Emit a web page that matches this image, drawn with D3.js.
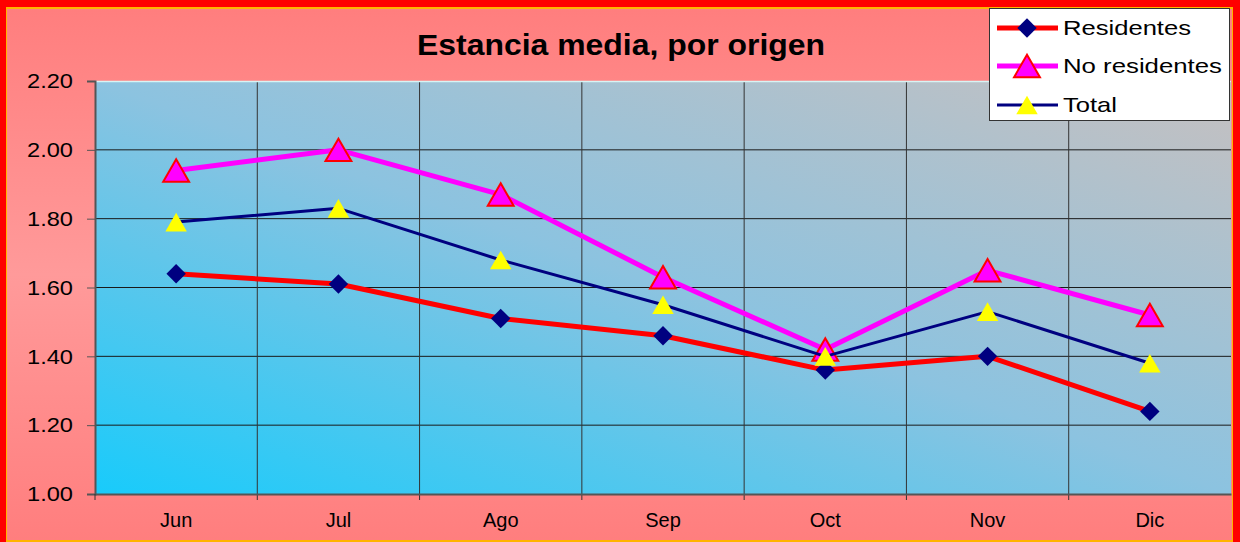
<!DOCTYPE html>
<html>
<head>
<meta charset="utf-8">
<script src="https://cdn.jsdelivr.net/npm/d3@7"></script>
<style>
  body { margin: 0; padding: 0; background: #fff; }
  svg { display: block; font-family: "Liberation Sans", Arial, sans-serif; }
</style>
</head>
<body>
<div id="chart"></div>
<script>
// data
var months = ["Jun", "Jul", "Ago", "Sep", "Oct", "Nov", "Dic"];
var residentes = [1.64, 1.61, 1.51, 1.46, 1.36, 1.40, 1.24];
var noResidentes = [1.94, 2.00, 1.87, 1.63, 1.42, 1.65, 1.52];
var total = [1.79, 1.83, 1.68, 1.55, 1.40, 1.53, 1.38];
var yTicks = [1.00, 1.20, 1.40, 1.60, 1.80, 2.00, 2.20];

var width = 1240, height = 542;
var plot = { left: 95, top: 81, right: 1231, bottom: 494 };

var svg = d3.select("#chart").append("svg")
  .attr("width", width)
  .attr("height", height);

var defs = svg.append("defs");

// outer pink background, lighter in the middle band
var bg = defs.append("linearGradient").attr("id", "bgGrad")
  .attr("x1", 0).attr("y1", 0).attr("x2", 0).attr("y2", 1);
bg.append("stop").attr("offset", "0%").attr("stop-color", "#ff7e7e");
bg.append("stop").attr("offset", "50%").attr("stop-color", "#ff9a9a");
bg.append("stop").attr("offset", "100%").attr("stop-color", "#ff7e7e");

// plot area: cyan bottom-left to grey top-right
var pg = defs.append("linearGradient").attr("id", "plotGrad")
  .attr("x1", 0).attr("y1", 1).attr("x2", 1).attr("y2", 0);
pg.append("stop").attr("offset", "0%").attr("stop-color", "#18cbfb");
pg.append("stop").attr("offset", "50%").attr("stop-color", "#8cc3e0");
pg.append("stop").attr("offset", "100%").attr("stop-color", "#c6c0c0");

svg.append("rect").attr("x", 0).attr("y", 0).attr("width", width).attr("height", height)
  .attr("fill", "#ff0000");
svg.append("rect").attr("x", 6).attr("y", 7).attr("width", 1227).attr("height", 535)
  .attr("fill", "#ffb400");
svg.append("rect").attr("x", 7).attr("y", 9).attr("width", 1225).attr("height", 531)
  .attr("fill", "url(#bgGrad)");

svg.append("rect")
  .attr("x", plot.left).attr("y", plot.top)
  .attr("width", plot.right - plot.left).attr("height", plot.bottom - plot.top)
  .attr("fill", "url(#plotGrad)");

var x = d3.scaleBand().domain(months).range([plot.left, plot.right]);
var y = d3.scaleLinear().domain([1.0, 2.2]).range([plot.bottom, plot.top]);

// horizontal grid lines
svg.append("g").selectAll("line")
  .data(yTicks.slice(1, -1))
  .enter().append("line")
  .attr("x1", plot.left).attr("x2", plot.right)
  .attr("y1", function(d) { return y(d); })
  .attr("y2", function(d) { return y(d); })
  .attr("stroke", "#1a1a1a").attr("stroke-width", 1);

// vertical grid lines between categories
var bounds = months.slice(1).map(function(m) { return x(m); });
svg.append("g").selectAll("line")
  .data(bounds)
  .enter().append("line")
  .attr("x1", function(d) { return d; }).attr("x2", function(d) { return d; })
  .attr("y1", plot.top).attr("y2", plot.bottom + 6)
  .attr("stroke", "#333").attr("stroke-width", 1);

// top edge highlight
svg.append("line").attr("x1", plot.left).attr("x2", plot.right)
  .attr("y1", plot.top + 0.5).attr("y2", plot.top + 0.5)
  .attr("stroke", "#d8f4f4").attr("stroke-width", 1.5);

// y axis
var yAxis = svg.append("g")
  .attr("transform", "translate(" + plot.left + ",0)")
  .call(d3.axisLeft(y).tickValues(yTicks).tickFormat(d3.format(".2f")).tickSize(8).tickPadding(14));
yAxis.select(".domain").attr("stroke", "#555").attr("stroke-width", 2);
yAxis.selectAll(".tick line").attr("stroke", "#555");
yAxis.selectAll("text").attr("font-size", "21px").attr("fill", "#000")
  .attr("font-family", "Liberation Sans, Arial, sans-serif")
  .attr("x", -22)
  .attr("textLength", 46).attr("lengthAdjust", "spacingAndGlyphs");

// x axis
var xAxis = svg.append("g")
  .attr("transform", "translate(0," + plot.bottom + ")")
  .call(d3.axisBottom(x).tickSize(0).tickPadding(19));
xAxis.select(".domain").attr("stroke", "#555").attr("stroke-width", 2);
xAxis.selectAll("text").attr("font-size", "20px").attr("fill", "#000")
  .attr("font-family", "Liberation Sans, Arial, sans-serif")
  .attr("y", 19).attr("dy", "0.71em");

svg.append("line").attr("x1", plot.left).attr("x2", plot.left)
  .attr("y1", plot.bottom).attr("y2", plot.bottom + 6).attr("stroke", "#333");

// title
svg.append("text")
  .attr("x", 621).attr("y", 55)
  .attr("text-anchor", "middle")
  .attr("font-size", "29px").attr("font-weight", "bold")
  .attr("textLength", 408).attr("lengthAdjust", "spacingAndGlyphs")
  .text("Estancia media, por origen");

function cx(i) { return x(months[i]) + x.bandwidth() / 2; }

var line = d3.line()
  .x(function(d, i) { return cx(i); })
  .y(function(d) { return y(d); });

// triangle centred on its bounding box, like the spreadsheet markers
var boxTriangle = {
  draw: function(context, size) {
    var s = Math.sqrt(size * 4 / Math.sqrt(3));
    var h = s * Math.sqrt(3) / 2;
    context.moveTo(0, -h / 2);
    context.lineTo(s / 2, h / 2);
    context.lineTo(-s / 2, h / 2);
    context.closePath();
  }
};

var series = [
  { name: "Residentes", values: residentes, stroke: "#ff0000", sw: 5, marker: d3.symbol().type(d3.symbolDiamond2).size(240), fill: "#000080", mstroke: "none" },
  { name: "No residentes", values: noResidentes, stroke: "#ff00ff", sw: 5, marker: d3.symbol().type(boxTriangle).size(290), fill: "#ff00ff", mstroke: "#ff0000" },
  { name: "Total", values: total, stroke: "#000080", sw: 3, marker: d3.symbol().type(boxTriangle).size(200), fill: "#ffff00", mstroke: "none" }
];

// each series: line then its markers, in series order
series.forEach(function(s) {
  var g = svg.append("g");
  g.append("path")
    .datum(s.values)
    .attr("d", line)
    .attr("fill", "none")
    .attr("stroke", s.stroke)
    .attr("stroke-width", s.sw)
    .attr("stroke-linejoin", "round");
  g.selectAll(".mark")
    .data(s.values)
    .enter().append("path")
    .attr("class", "mark")
    .attr("d", s.marker())
    .attr("transform", function(d, i) { return "translate(" + cx(i) + "," + y(d) + ")"; })
    .attr("fill", s.fill)
    .attr("stroke", s.mstroke)
    .attr("stroke-width", 2);
});

// legend
var legend = svg.append("g").attr("transform", "translate(989,8)");
legend.append("rect").attr("x", 0.5).attr("y", 0.5).attr("width", 240).attr("height", 112)
  .attr("fill", "#fff").attr("stroke", "#333").attr("stroke-width", 1);
var rowY = [20, 58, 97];
var labelLen = [128, 159, 54];
series.forEach(function(s, i) {
  var g = legend.append("g").attr("transform", "translate(0," + rowY[i] + ")");
  g.append("line").attr("x1", 8).attr("x2", 69).attr("y1", 0).attr("y2", 0)
    .attr("stroke", s.stroke).attr("stroke-width", s.sw);
  g.append("path").attr("d", s.marker())
    .attr("transform", "translate(38,0)")
    .attr("fill", s.fill).attr("stroke", s.mstroke).attr("stroke-width", 2);
  g.append("text").attr("x", 74).attr("y", 7)
    .attr("font-size", "21px").attr("fill", "#000")
    .attr("textLength", labelLen[i]).attr("lengthAdjust", "spacingAndGlyphs")
    .text(s.name);
});
</script>
</body>
</html>
